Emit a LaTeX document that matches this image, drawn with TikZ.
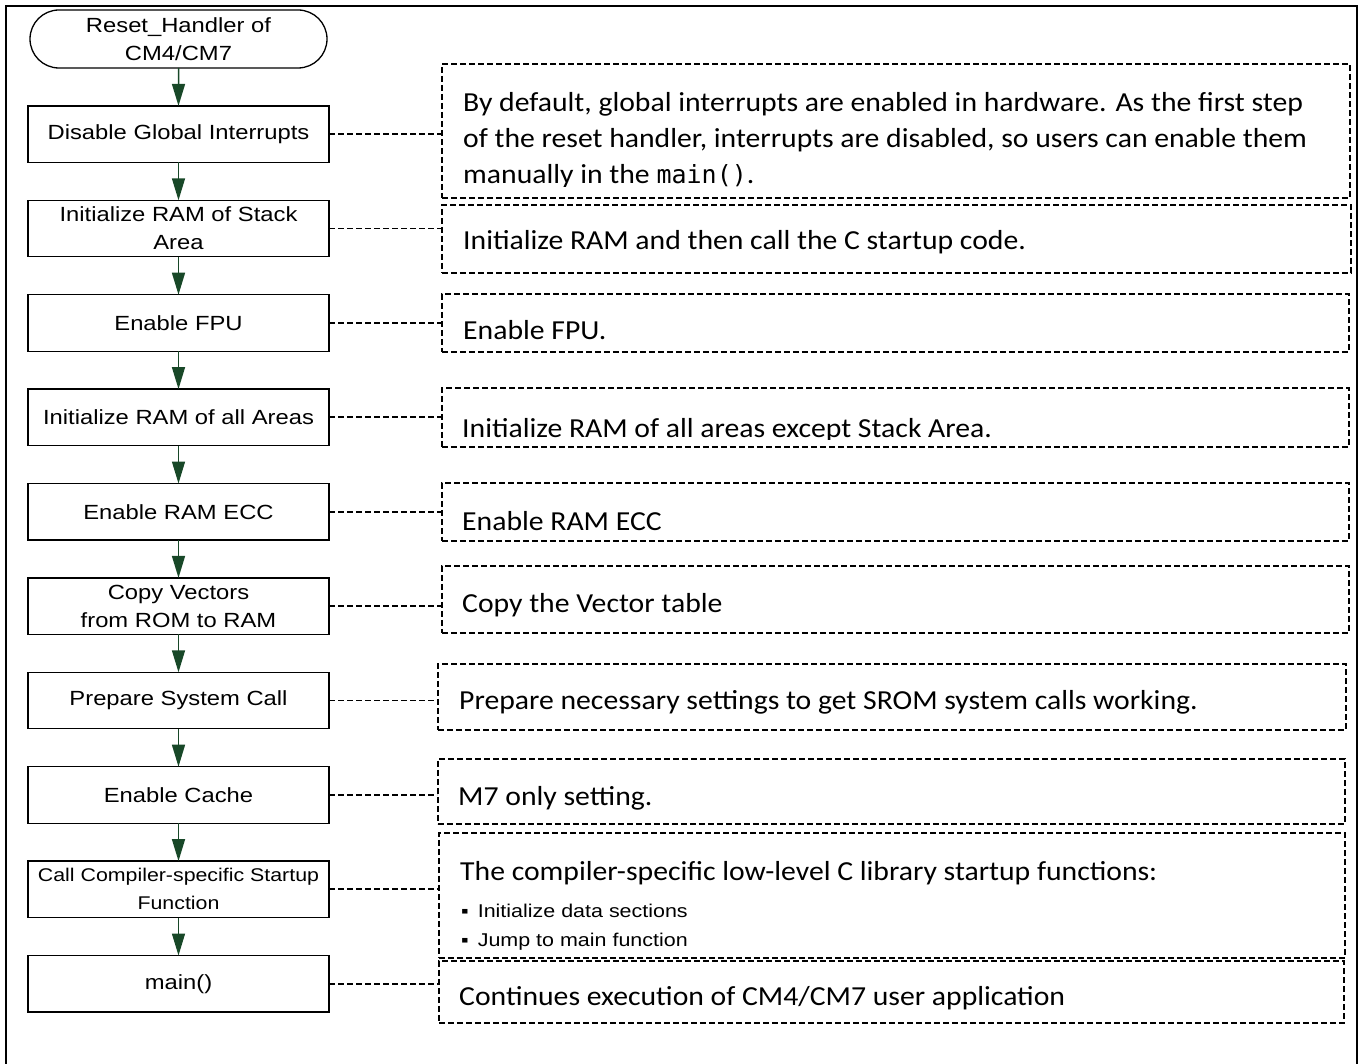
\documentclass[tikz,border=0pt]{standalone}
\usepackage{fontspec}
\setmainfont{Liberation Sans}
\newfontfamily\boxfont[FakeStretch=1.16]{Liberation Sans}
\newfontfamily\notefont[FakeStretch=1.08]{Carlito}
\newfontfamily\codefont{DejaVu Sans Mono}
\usetikzlibrary{positioning, arrows.meta, shapes.misc}
\definecolor{flowgreen}{RGB}{24,72,40}
\tikzstyle{proc}=[draw, line width=1.3pt, outer sep=0pt, minimum width=301pt, minimum height=56.5pt, inner sep=2pt, align=center, font=\boxfont\fontsize{20.5}{28}\selectfont]
\tikzstyle{term}=[proc, rounded rectangle, minimum height=58pt]
\tikzstyle{note}=[draw, line width=1.8pt, dash pattern=on 6pt off 3pt, anchor=north west, inner sep=0pt]
\tikzstyle{txt}=[anchor=base west, inner sep=0pt, align=left, font=\notefont\fontsize{27.5}{36}\selectfont]
\tikzstyle{flow}=[draw=flowgreen, fill=flowgreen, line width=1.5pt, -{Triangle[length=22pt,width=13pt]}]
\tikzstyle{link}=[line width=1.8pt, dash pattern=on 6pt off 3pt]

\begin{document}
\begin{tikzpicture}[x=1pt, y=-1pt, node distance=37.9pt]
\useasboundingbox (0,0) rectangle (1362,1064);
\draw[line width=2pt] (5.5,1070) -- (5.5,6) -- (1357,6) -- (1357,1070);

% flow of the reset handler
\node[term] (start) at (178.5,39) {Reset\_Handler of\\CM4/CM7};
\node[proc, below=of start] (dgi) {Disable Global Interrupts};
\node[proc, below=of dgi] (stack) {Initialize RAM of Stack\\Area};
\node[proc, below=of stack] (fpu) {Enable FPU};
\node[proc, below=of fpu] (ram) {Initialize RAM of all Areas};
\node[proc, below=of ram] (ecc) {Enable RAM ECC};
\node[proc, below=of ecc] (vec) {Copy Vectors\\from ROM to RAM};
\node[proc, below=of vec] (sys) {Prepare System Call};
\node[proc, below=of sys] (cache) {Enable Cache};
\node[proc, below=of cache, font=\boxfont\fontsize{18.4}{28}\selectfont] (comp) {Call Compiler-specific Startup\\Function};
\node[proc, below=of comp] (main) {main()};

\draw[flow] (start) -- (dgi);
\draw[flow] (dgi) -- (stack);
\draw[flow] (stack) -- (fpu);
\draw[flow] (fpu) -- (ram);
\draw[flow] (ram) -- (ecc);
\draw[flow] (ecc) -- (vec);
\draw[flow] (vec) -- (sys);
\draw[flow] (sys) -- (cache);
\draw[flow] (cache) -- (comp);
\draw[flow] (comp) -- (main);

% notes
\node[note, minimum width=908pt, minimum height=134pt] (n1) at (441,63) {};
\node[note, minimum width=909pt, minimum height=68pt] (n2) at (441,204) {};
\node[note, minimum width=907pt, minimum height=58pt] (n3) at (441,293) {};
\node[note, minimum width=907pt, minimum height=59pt] (n4) at (441,387) {};
\node[note, minimum width=907pt, minimum height=58pt] (n5) at (441,482) {};
\node[note, minimum width=907pt, minimum height=67pt] (n6) at (441,565) {};
\node[note, minimum width=908pt, minimum height=66pt] (n7) at (437,663) {};
\node[note, minimum width=907pt, minimum height=65pt] (n8) at (437,758) {};
\node[note, minimum width=906pt, minimum height=125pt] (n9) at (438,832) {};
\node[note, minimum width=905pt, minimum height=62pt] (n10) at (438,960) {};

\begin{scope}
\clip (n1.north west) rectangle ([yshift=12pt]n1.south east);
\node[txt] (t1) at (463,184) {By default, global interrupts are enabled in hardware. As the first step\\of the reset handler, interrupts are disabled, so users can enable them\\manually in the {\codefont\fontsize{25}{36}\selectfont main()}.};
\end{scope}
\node[txt] (t2) at (463,250) {Initialize RAM and then call the C startup code.};
\node[txt] (t3) at (463,340) {Enable FPU.};
\begin{scope}
\clip (n4.north west) rectangle ([yshift=8pt]n4.south east);
\node[txt] (t4) at (462,437) {Initialize RAM of all areas except Stack Area.};
\end{scope}
\node[txt] (t5) at (462,530) {Enable RAM ECC};
\node[txt] (t6) at (462,612) {Copy the Vector table};
\node[txt] (t7) at (459,709) {Prepare necessary settings to get SROM system calls working.};
\node[txt] (t8) at (458,805) {M7 only setting.};
\node[txt] (t9) at (460,880) {The compiler-specific low-level C library startup functions:};
\node[txt, font=\boxfont\fontsize{18.5}{29}\selectfont] (t9a) at (461,946) {▪\hspace{9pt}Initialize data sections\\▪\hspace{9pt}Jump to main function};
\node[txt] (t10) at (459,1005) {Continues execution of CM4/CM7 user application};

\draw[link] (dgi.east) -- (dgi.east -| n1.west);
\draw[link] (stack.east) -- (stack.east -| n2.west);
\draw[link] (fpu.east) -- (fpu.east -| n3.west);
\draw[link] (ram.east) -- (ram.east -| n4.west);
\draw[link] (ecc.east) -- (ecc.east -| n5.west);
\draw[link] (vec.east) -- (vec.east -| n6.west);
\draw[link] (sys.east) -- (sys.east -| n7.west);
\draw[link] (cache.east) -- (cache.east -| n8.west);
\draw[link] (comp.east) -- (comp.east -| n9.west);
\draw[link] (main.east) -- (main.east -| n10.west);
\end{tikzpicture}
\end{document}
